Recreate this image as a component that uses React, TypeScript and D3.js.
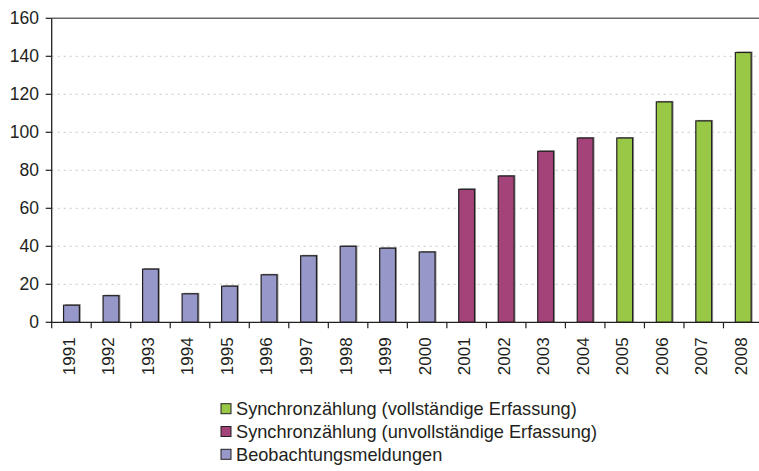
import React from "react";
import * as d3 from "d3";

const years = ["1991","1992","1993","1994","1995","1996","1997","1998","1999","2000","2001","2002","2003","2004","2005","2006","2007","2008"];
const values = [9,14,28,15,19,25,35,40,39,37,70,77,90,97,97,116,106,142];
const seriesOf = [2,2,2,2,2,2,2,2,2,2,1,1,1,1,0,0,0,0];
const seriesNames = ["Synchronzählung (vollständige Erfassung)","Synchronzählung (unvollständige Erfassung)","Beobachtungsmeldungen"];
const seriesColors = ["#99c847","#a4437a","#9598c9"];
const yTicks = [0,20,40,60,80,100,120,140,160];

export default function App() {
  const W = 759, H = 471;
  const left = 51.7, right = 763, top = 18.3, bottom = 322.3;
  const x = d3.scaleBand<string>().domain(years).range([left, right]).paddingInner(0.6).paddingOuter(0.3);
  const band = d3.scaleBand<string>().domain(years).range([left, right]);
  const y = d3.scaleLinear().domain([0,160]).range([bottom, top]);
  const font = "'Liberation Sans', Arial, sans-serif";
  const textColor = "#231f20";
  return (
    <svg width={W} height={H} style={{position:"absolute", left:0, top:0, background:"#fff"}} fontFamily={font}>
      {yTicks.filter(t => t>0 && t<160).map(t => (
        <line key={"g"+t} x1={left} x2={right} y1={y(t)} y2={y(t)} stroke="#c8c8c8" strokeWidth={1} strokeDasharray="2,4" />
      ))}
      <line x1={left} x2={right} y1={top} y2={top} stroke="#6b6b6b" strokeWidth={1.5} />
      {years.map((yr,i) => (
        <g key={yr}>
          <rect x={(x(yr) as number)+1.5} y={y(values[i])-1} width={x.bandwidth()} height={bottom-y(values[i])+1} fill="#9a9a9a" />
          <rect x={x(yr)} y={y(values[i])} width={x.bandwidth()} height={bottom-y(values[i])} fill={seriesColors[seriesOf[i]]} stroke="#231f20" strokeWidth={1.2} />
        </g>
      ))}
      <line x1={left} x2={left} y1={top} y2={bottom} stroke="#231f20" strokeWidth={1.3} />
      <line x1={left-1} x2={right} y1={bottom} y2={bottom} stroke="#231f20" strokeWidth={1.3} />
      {yTicks.map(t => (
        <g key={"y"+t}>
          <line x1={left-6} x2={left} y1={y(t)} y2={y(t)} stroke="#231f20" strokeWidth={1.2} />
          <text x={39} y={y(t)} dy="0.35em" textAnchor="end" fontSize={17.5} fill={textColor}>{t}</text>
        </g>
      ))}
      {years.map((yr) => (
        <line key={"t"+yr} x1={band(yr) as number} x2={band(yr) as number} y1={bottom} y2={bottom+6} stroke="#231f20" strokeWidth={1.2} />
      ))}
      {years.map((yr) => {
        const cx = (band(yr) as number) + band.bandwidth()/2 - 2.5;
        return (
          <text key={"l"+yr} transform={`translate(${cx},${bottom+15}) rotate(-90)`} textAnchor="end" dy="0.35em" fontSize={17} fill={textColor}>{yr}</text>
        );
      })}
      {seriesNames.map((n,i) => (
        <g key={n} transform={`translate(221,${408.7 + i*22.8})`}>
          <rect x={0} y={-5} width={10} height={10} fill={seriesColors[i]} stroke="#231f20" strokeWidth={1} />
          <text x={15} y={0} dy="0.35em" fontSize={18.2} fill={textColor}>{n}</text>
        </g>
      ))}
    </svg>
  );
}
